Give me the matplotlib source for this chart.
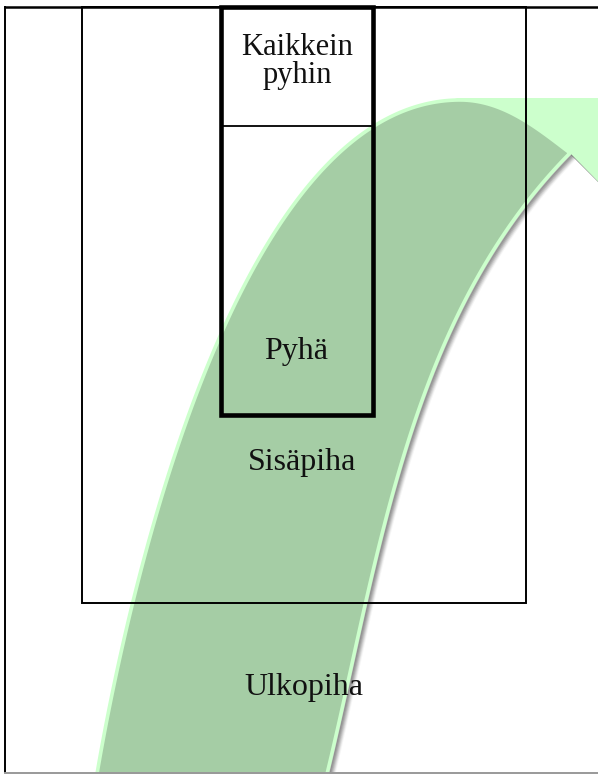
import numpy as np
import matplotlib
matplotlib.use("Agg")
import matplotlib.pyplot as plt
from matplotlib.patches import Polygon, Rectangle

# ---- diagram content ----
labels = ["Kaikkein", "pyhin", "Pyhä", "Sisäpiha", "Ulkopiha"]

# band edge points (pixel space of the 598x774 canvas)
outer_pts = [(97, 774), (132, 603), (143, 560), (210, 367), (222, 330),
             (250, 270), (300, 203), (333, 157), (373, 123), (433, 103), (460, 100)]
top_pts = [(460, 100), (500, 108), (527, 122), (553, 140), (570, 153)]
inner_pts = [(327, 774), (363, 602), (383, 540), (402, 460), (432, 380),
             (445, 340), (478, 273), (527, 203), (570, 153)]
head_pts = [(455, 98), (625, 98), (625, 209), (570, 153)]

FILL = "#a5cda5"
EDGE = "#ccffcc"


def bez(c, t):
    t = np.asarray(t)[:, None]
    return ((1 - t) ** 3 * c[0] + 3 * (1 - t) ** 2 * t * c[1]
            + 3 * (1 - t) * t ** 2 * c[2] + t ** 3 * c[3])


def fit_bezier(pts, n=300, iters=30):
    p = np.array(pts, dtype=float)
    d = np.r_[0, np.cumsum(np.hypot(*np.diff(p, axis=0).T))]
    t = d / d[-1]
    P0, P3 = p[0], p[-1]
    for _ in range(iters):
        b1 = 3 * (1 - t) ** 2 * t
        b2 = 3 * (1 - t) * t ** 2
        rhs = p - np.outer((1 - t) ** 3, P0) - np.outer(t ** 3, P3)
        A = np.c_[b1, b2]
        sol, *_ = np.linalg.lstsq(A, rhs, rcond=None)
        c = np.array([P0, sol[0], sol[1], P3])
        tt = np.linspace(0, 1, 2001)
        curve = bez(c, tt)
        t = np.array([tt[np.argmin(np.hypot(*(curve - q).T))] for q in p])
        t[0], t[-1] = 0.0, 1.0
    return bez(c, np.linspace(0, 1, n))


W, H = 598, 774
fig = plt.figure(figsize=(W / 100, H / 100), dpi=100)
ax = fig.add_axes([0, 0, 1, 1])
ax.set_xlim(0, W)
ax.set_ylim(H, 0)
ax.axis("off")

outer = fit_bezier(outer_pts)
top_arc = fit_bezier(top_pts, n=120)
inner = fit_bezier(inner_pts)

# extend bottoms below the canvas
outer = np.vstack([[outer[0] + (outer[0] - outer[5]) * 8], outer])
inner = np.vstack([[inner[0] + (inner[0] - inner[5]) * 8], inner])

# soft shadow on the inner side
for k, a in zip(range(1, 7), [0.45, 0.38, 0.3, 0.2, 0.12, 0.06]):
    off = np.array([1.0 + k * 0.9, 0.8 + k * 0.6])
    sh = inner + off
    ax.plot(sh[:, 0], sh[:, 1], color="#606060", lw=1.6, alpha=a, zorder=0.5)
    hx = np.array([570, 625]) + off[0]
    hy = np.array([153, 208]) + off[1]
    ax.plot(hx, hy, color="#606060", lw=1.6, alpha=a, zorder=0.5)

# arrow head (light)
head = np.vstack([head_pts, top_arc[::-1]])
ax.add_patch(Polygon(head, closed=True, facecolor=EDGE, edgecolor="none", zorder=1))

# band
band = np.vstack([outer, top_arc[1:], inner[::-1][1:]])
ax.add_patch(Polygon(band, closed=True, facecolor=FILL, edgecolor=EDGE,
                     lw=2.6, zorder=2))

# outer frame
ax.plot([4.5, 598], [6.5, 6.5], color="black", lw=1.8, zorder=3)
ax.plot([5, 5], [6.5, 772], color="black", lw=1.4, zorder=3)
ax.plot([5, 598], [772.5, 772.5], color="#999999", lw=1.4, zorder=3)

# inner court rectangle
ax.add_patch(Rectangle((81.5, 6.5), 526 - 81.5, 603 - 6.5, fill=False,
                       edgecolor="black", lw=1.4, zorder=3))

# holy place rectangle
ax.add_patch(Rectangle((220.5, 6.5), 373 - 220.5, 415 - 6.5, fill=False,
                       edgecolor="black", lw=3.3, zorder=3.1, joinstyle="miter"))
ax.plot([222, 372], [126, 126], color="black", lw=1.3, zorder=3)

serif = "Liberation Serif"
ax.text(297.5, 55, labels[0], ha="center", va="baseline", fontsize=22,
        family=serif, color="#111111", zorder=4)
ax.text(297, 83, labels[1], ha="center", va="baseline", fontsize=22,
        family=serif, color="#111111", zorder=4)
ax.text(296, 359, labels[2], ha="center", va="baseline", fontsize=23,
        family=serif, color="#111111", zorder=4)
ax.text(302, 470, labels[3], ha="center", va="baseline", fontsize=23,
        family=serif, color="#111111", zorder=4)
ax.text(304, 695, labels[4], ha="center", va="baseline", fontsize=23,
        family=serif, color="#111111", zorder=4)

fig.savefig("out.png", dpi=100)
